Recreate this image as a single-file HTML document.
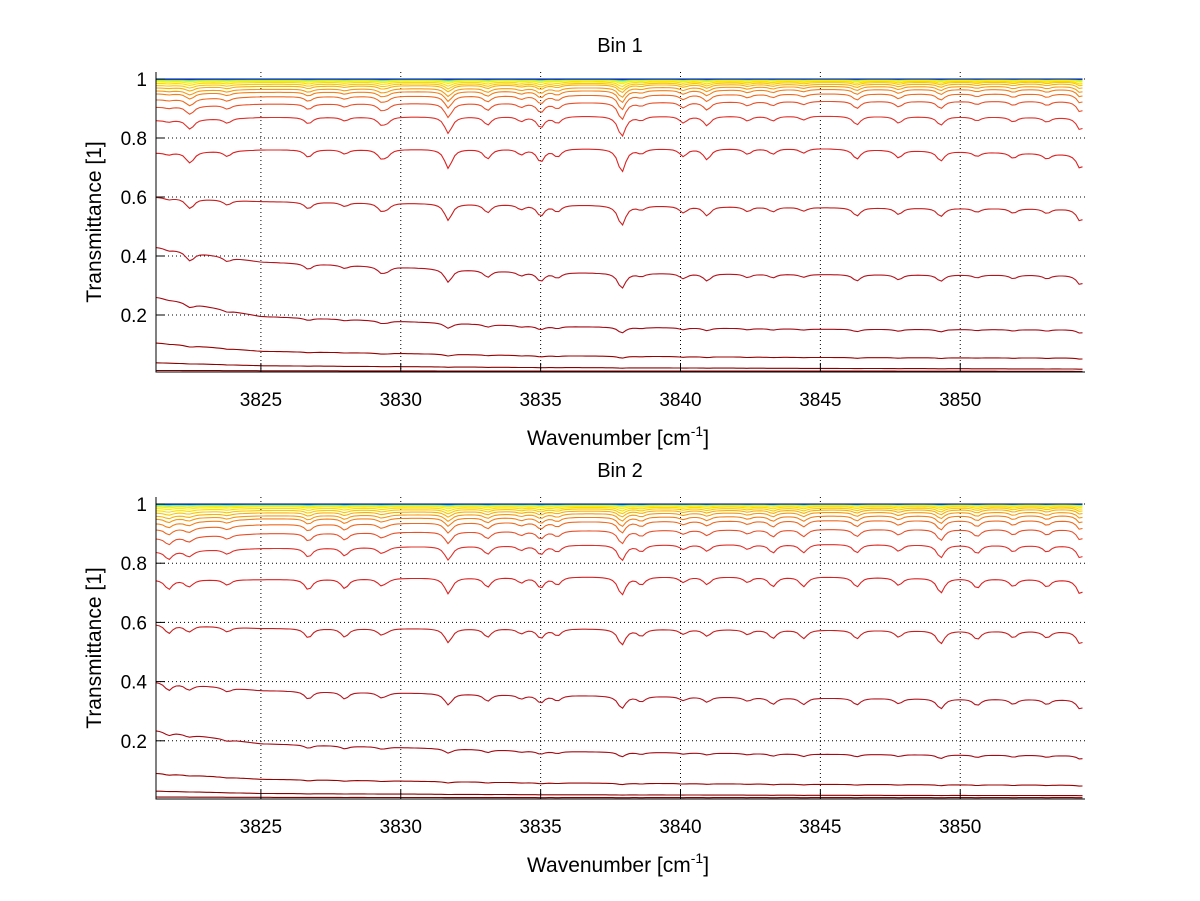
<!DOCTYPE html>
<html><head><meta charset="utf-8"><style>
body{margin:0;background:#fff;}
svg{display:block;font-family:"Liberation Sans",sans-serif;}
</style></head><body>
<svg id="chart" width="1200" height="901" viewBox="0 0 1200 901" xmlns="http://www.w3.org/2000/svg">
<rect width="1200" height="901" fill="#fff"/>
</svg>
<script>
// ---- data ----
const xTicks = [3825, 3830, 3835, 3840, 3845, 3850];
const yTicks = [0.2, 0.4, 0.6, 0.8, 1];
const yTickLabels = ["0.2", "0.4", "0.6", "0.8", "1"];
const knotWn = [3821.3, 3825, 3835, 3845, 3854.5];
const lineCenters = [3821.7,3822.4,3822.5,3823.8,3826.7,3828.0,3829.3,3829.5,3831.7,3833.1,3834.3,3835.0,3835.6,3837.9,3838.6,3840.1,3840.95,3842.4,3843.3,3844.4,3846.3,3847.8,3849.3,3850.6,3851.9,3853.1,3854.3];
const lineDepthBin1 = [0.01,0.02,0.035,0.025,0.035,0.02,0.035,0.025,0.09,0.045,0.025,0.06,0.035,0.11,0.02,0.035,0.05,0.025,0.025,0.02,0.045,0.035,0.045,0.02,0.025,0.025,0.07];
const lineDepthBin2 = [0.045,0.025,0.01,0.025,0.05,0.045,0.03,0.01,0.075,0.045,0.025,0.05,0.035,0.085,0.035,0.025,0.035,0.025,0.045,0.045,0.045,0.035,0.07,0.045,0.035,0.035,0.07];
const amounts = [0.3,0.6,1.0,1.2,1.5,1.15,1.0,0.75,0.6,0.5,0.4,0.32,0.25,0.2,0.15,0.1,0.07,0.05,0.04,0.03,0.02,0.01,0.005,0];
const levelsBin1 = [
[0.012,0.011,0.010,0.010,0.009],[0.038,0.028,0.022,0.019,0.017],[0.105,0.077,0.062,0.056,0.054],
[0.26,0.195,0.162,0.152,0.150],[0.43,0.38,0.345,0.338,0.335],[0.60,0.585,0.575,0.565,0.56],
[0.75,0.76,0.765,0.765,0.745],[0.86,0.87,0.875,0.875,0.87],[0.905,0.915,0.92,0.925,0.925],
[0.93,0.94,0.945,0.95,0.95],[0.95,0.955,0.96,0.965,0.965],[0.96,0.965,0.97,0.975,0.975],
[0.97,0.975,0.98,0.982,0.984],[0.978,0.982,0.985,0.988,0.99],[0.985,0.988,0.99,0.992,0.993],
[0.99,0.992,0.994,0.995,0.996],[0.994,0.995,0.996,0.997,0.998],[0.996,0.997,0.998,0.998,0.999],
[0.997,0.998,0.998,0.999,0.999],[0.998,0.998,0.999,0.999,1.0],[0.999,0.999,0.999,1.0,1.0],
[0.999,1.0,1.0,1.0,1.0],[1.0,1.0,1.0,1.0,1.0],[1.0,1.0,1.0,1.0,1.0]];
const levelsBin2 = [
[0.010,0.009,0.008,0.008,0.008],[0.03,0.022,0.018,0.016,0.015],[0.09,0.07,0.058,0.053,0.05],
[0.235,0.19,0.165,0.155,0.15],[0.40,0.37,0.355,0.345,0.34],[0.595,0.58,0.58,0.575,0.57],
[0.745,0.745,0.755,0.755,0.745],[0.84,0.85,0.862,0.865,0.86],[0.885,0.9,0.91,0.915,0.915],
[0.915,0.93,0.94,0.945,0.945],[0.935,0.95,0.955,0.96,0.962],[0.95,0.96,0.967,0.972,0.973],
[0.96,0.97,0.976,0.98,0.982],[0.97,0.978,0.983,0.986,0.988],[0.978,0.985,0.988,0.991,0.992],
[0.985,0.99,0.992,0.994,0.995],[0.99,0.993,0.995,0.997,0.997],[0.994,0.996,0.997,0.998,0.998],
[0.996,0.997,0.998,0.999,0.999],[0.998,0.998,0.999,0.999,1.0],[0.999,0.999,0.999,1.0,1.0],
[0.999,1.0,1.0,1.0,1.0],[1.0,1.0,1.0,1.0,1.0],[1.0,1.0,1.0,1.0,1.0]];
const colors = ["#800000","#8b0000","#990000","#a50a14","#b4141e","#c81e1e","#dc2020","#e0302a","#e8502a","#ee6a20","#f28018","#f59a10","#f8b008","#fac800","#fcdc00","#ffee00","#f0f020","#c8f040","#80ff80","#40e0d0","#00c0ff","#0080ff","#0040e0","#00008f"];

const NS = "http://www.w3.org/2000/svg";
const svg = document.getElementById("chart");
function mk(tag, attrs, parent){const e=document.createElementNS(NS,tag);for(const k in attrs)e.setAttribute(k,attrs[k]);(parent||svg).appendChild(e);return e;}

const X0=156,X1=1085,W0=3821.25,W1=3854.46;
function xs(w){return X0+(w-W0)*(X1-X0)/(W1-W0);}

function drawPanel(idx, title, top, bottom, y1px, pxPerUnit, levels, depths){
  const ys = v => y1px + (1-v)*pxPerUnit;
  const g = mk("g",{});
  
  
  const cid="clip"+idx;
  const cp=mk("clipPath",{id:cid},g);
  mk("rect",{x:X0,y:top,width:X1-X0,height:bottom-top},cp);
  xTicks.forEach(t=>{
    const l=mk("line",{x1:xs(t),x2:xs(t),y1:top,y2:bottom,stroke:"#000","stroke-width":1,"stroke-dasharray":"1,3"},g);
    
    
  });
  yTicks.forEach(t=>{
    const l=mk("line",{x1:X0,x2:X1,y1:ys(t),y2:ys(t),stroke:"#000","stroke-width":1,"stroke-dasharray":"1,3"},g);
    
    
  });
  const cg=mk("g",{"clip-path":"url(#"+cid+")"},g);
  levels.forEach((lv,k)=>{
    const pts=[];
    for(let w=W0;w<=3854.4;w+=0.12){
      let j=0; while(j<knotWn.length-2 && w>knotWn[j+1]) j++;
      const f=Math.max(0,Math.min(1,(w-knotWn[j])/(knotWn[j+1]-knotWn[j])));
      const base=lv[j]+(lv[j+1]-lv[j])*f;
      let tau=0;
      lineCenters.forEach((c,i)=>{const d=w-c,gm=0.16;tau+=depths[i]*gm*gm/(d*d+gm*gm);});
      const v=base*Math.exp(-amounts[k]*tau);
      pts.push(xs(w).toFixed(1)+","+ys(v).toFixed(1));
    }
    const p=mk("polyline",{points:pts.join(" "),fill:"none",stroke:colors[k],"stroke-width":1.1},cg);
    
    
  });
  const ax=mk("path",{d:`M${X0},${top}V${bottom}H${X1}`,fill:"none",stroke:"#000","stroke-width":1},g);
  
  
  xTicks.forEach(t=>{
    mk("line",{x1:xs(t),x2:xs(t),y1:bottom,y2:bottom-9,stroke:"#000"},g);
    const tx=mk("text",{x:xs(t),y:bottom+34,"text-anchor":"middle","font-size":"19"},g);
    tx.textContent=t;
    
    
  });
  yTicks.forEach((t,i)=>{
    mk("line",{x1:X0,x2:X0+9,y1:ys(t),y2:ys(t),stroke:"#000"},g);
    const tx=mk("text",{x:X0-9,y:ys(t)+7,"text-anchor":"end","font-size":"19"},g);
    tx.textContent=yTickLabels[i];
    
    
  });
  const tt=mk("text",{x:620,y:top-20,"text-anchor":"middle","font-size":"20"},g);
  tt.textContent=title;
  
  
  const xl=mk("text",{x:618,y:bottom+73,"text-anchor":"middle","font-size":"21"},g);
  xl.innerHTML='Wavenumber [cm<tspan dy="-9" font-size="14">-1</tspan><tspan dy="9">]</tspan>';
  
  
  const yc=(top+bottom)/2;
  const yl=mk("text",{x:101,y:yc,"text-anchor":"middle","font-size":"21",transform:`rotate(-90 101 ${yc})`},g);
  yl.textContent="Transmittance [1]";
  
  
}
drawPanel(1,"Bin 1",72,372,79,295,levelsBin1,lineDepthBin1);
drawPanel(2,"Bin 2",497,799,504,296,levelsBin2,lineDepthBin2);
</script>
</body></html>
